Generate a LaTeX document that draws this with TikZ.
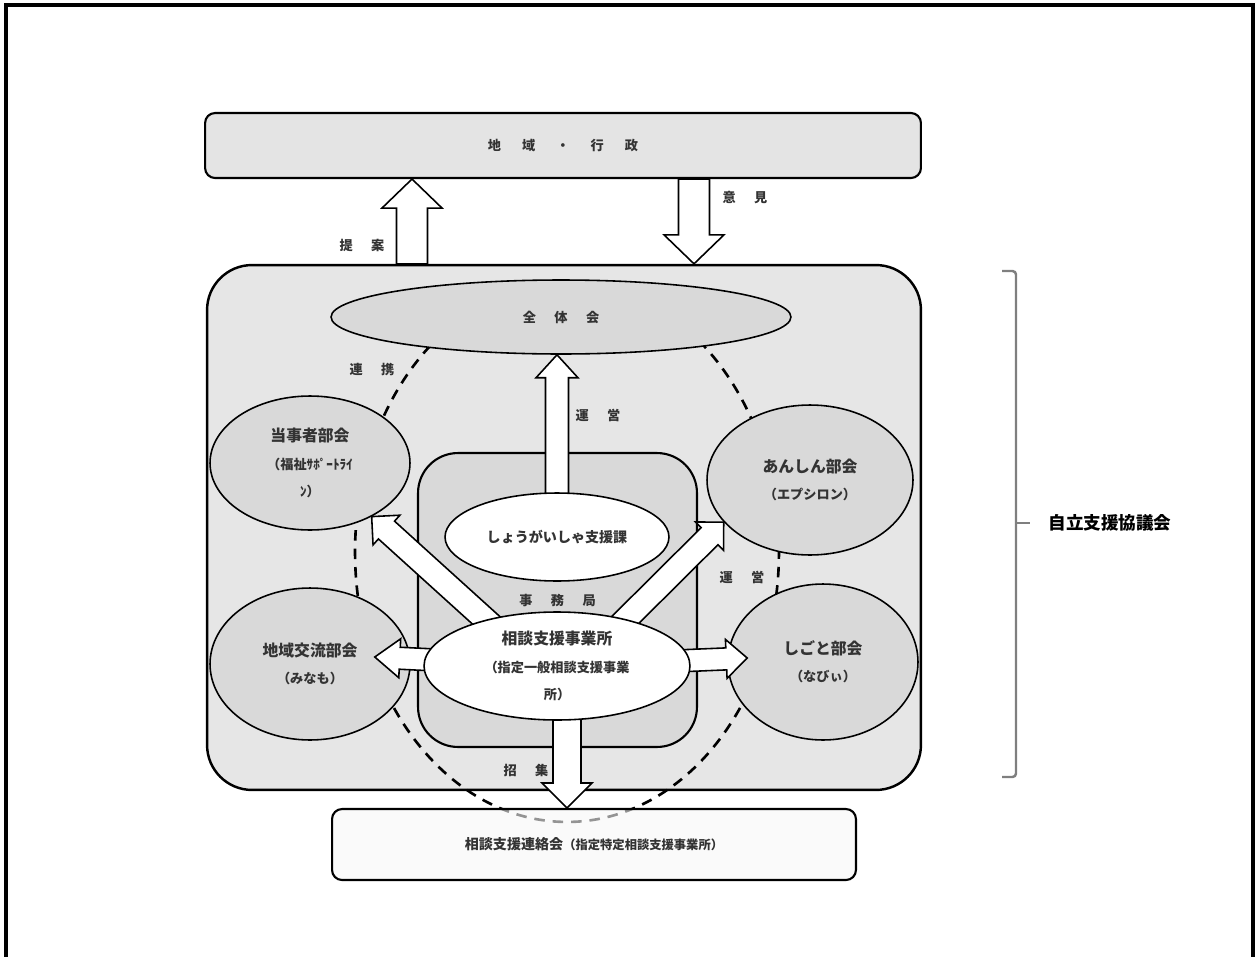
\documentclass[tikz,border=0pt]{standalone}
\usepackage{fontspec}
\setmainfont{Noto Sans CJK JP}
\usetikzlibrary{shapes.geometric,calc,positioning}
\definecolor{boxgray}{HTML}{E4E4E4}
\definecolor{outergray}{HTML}{E6E6E6}
\definecolor{bubgray}{HTML}{D9D9D9}
\definecolor{palegray}{HTML}{F7F7F7}
\definecolor{kakkogray}{HTML}{7F7F7F}
\newcommand\kan{\hspace{1.4em}}
\newcommand\tagfont{\bfseries\fontsize{7.5}{9}\selectfont}
\newcommand\bukaifont{\fontsize{9}{15.5}\selectfont}
\newcommand\hosoku{\fontsize{7.5}{15.5}\selectfont}
\newcommand\fatarrow[5]{%
  \coordinate (fa-b) at ($(#2)!#5!(#1)$);
  \draw[fatarrow] ($(#1)!#3!90:(#2)$) -- ($(fa-b)!#3!90:(#2)$) -- ($(fa-b)!#4!90:(#2)$) -- (#2)
    -- ($(fa-b)!#4!-90:(#2)$) -- ($(fa-b)!#3!-90:(#2)$) -- ($(#1)!#3!-90:(#2)$) -- cycle;}
\tikzset{
    waku/.style =    {draw=black,
                     line width=2.2pt},
    panel/.style =   {rectangle,
                     rounded corners=0.2cm,
                     fill=boxgray,
                     draw=black,
                     line width=1.2pt,
                     inner sep=0pt,
                     text=black!80},
    bubble/.style =  {ellipse,
                     fill=bubgray,
                     draw=black,
                     line width=0.9pt,
                     inner sep=0pt,
                     align=center,
                     text=black!80,
                     font=\bukaifont\bfseries},
    office/.style =  {ellipse,
                     fill=white,
                     draw=black,
                     line width=0.9pt,
                     inner sep=0pt,
                     align=center,
                     text=black!80,
                     font=\bukaifont\bfseries},
    tag/.style =     {text=black!80,
                     inner sep=1pt,
                     font=\tagfont},
    renkei/.style =  {draw=black,
                     line width=1.5pt,
                     dash pattern=on 6pt off 4.5pt},
    kakko/.style =   {draw=kakkogray,
                     line width=1.4pt},
    fatarrow/.style = {draw=black,
                     fill=white,
                     line width=0.9pt,
                     line join=miter}}
\begin{document}
\begin{tikzpicture}[x=0.02cm,y=-0.02cm]
\useasboundingbox (0,0) rectangle (1258,957);
\draw[waku] (6,957) -- (6,5) -- (1253,5) -- (1253,957);

\node[panel, minimum width=14.32cm, minimum height=1.3cm] (GYOSEI) at (563,145.5) {\tagfont 地\hspace{1.6em}域\hspace{1.6em}・\hspace{1.6em}行\hspace{1.6em}政};
\node[panel, fill=outergray, rounded corners=0.9cm, line width=1.4pt, minimum width=14.28cm, minimum height=10.5cm] (KYOGI) at (564,527.5) {};
\draw[kakko, rounded corners=2pt] (1002,271) -| (1016,777) -- (1002,777);
\draw[kakko] (1016,523) -- (1030,523);
\node[font=\bfseries\fontsize{10}{12}\selectfont] (JIRITSU) at (1110,523) {自立支援協議会};

\draw[renkei] (567,552) ellipse [x radius=4.24cm, y radius=5.4cm];

\node[bubble, minimum width=9.2cm, minimum height=1.48cm] (ZENTAI) at (561,317) {\tagfont 全\kan 体\kan 会};
\node[bubble, minimum width=4cm, minimum height=2.68cm] (TOJI) at (310,463) {当事者部会\\\hosoku（福祉ｻﾎﾟｰﾄﾗｲ\\\hosoku ﾝ）};
\node[bubble, minimum width=4cm, minimum height=3.04cm] (KORYU) at (310,664) {地域交流部会\\\hosoku（みなも）};
\node[bubble, minimum width=4.12cm, minimum height=3cm] (ANSHIN) at (810,480) {あんしん部会\\\hosoku（エプシロン）};
\node[bubble, minimum width=3.8cm, minimum height=3.12cm] (SHIGOTO) at (823,662) {しごと部会\\\hosoku（なびぃ）};
\node[panel, fill=bubgray, rounded corners=0.8cm, minimum width=5.58cm, minimum height=5.88cm] (JIMU) at (557.5,600) {\tagfont 事\kan 務\kan 局};
\node[panel, fill=palegray, fill opacity=0.6, text opacity=1, minimum width=10.48cm, minimum height=1.42cm] (RENRAKU) at (594,844.5) {{\bfseries\fontsize{8}{10}\selectfont 相談支援連絡会}{\bfseries\fontsize{7}{10}\selectfont（指定特定相談支援事業所）}};

\coordinate (KADAI-C) at (557,537);
\coordinate (SODAN-C) at (557,666);
\coordinate (SODAN-UL) at (530,660);
\coordinate (SODAN-UR) at (585,660);
\coordinate (TEIAN-S) at (KYOGI.north -| 412,0);
\coordinate (TEIAN-E) at (GYOSEI.south -| 412,0);
\coordinate (IKEN-S) at (GYOSEI.south -| 694,0);
\coordinate (IKEN-E) at (KYOGI.north -| 694,0);
\coordinate (UNEI-E) at (ZENTAI.south -| KADAI-C);
\coordinate (KORYU-TIP) at ($(KORYU.east)+(-36,-7)$);
\coordinate (SHIGOTO-TIP) at ($(SHIGOTO.west)+(20,-4)$);
\coordinate (SHOSHU-S) at (SODAN-C -| 567,0);
\coordinate (SHOSHU-E) at (RENRAKU.north -| 567,0);

\fatarrow{TEIAN-S}{TEIAN-E}{0.31cm}{0.6cm}{0.58cm}
\fatarrow{IKEN-S}{IKEN-E}{0.31cm}{0.6cm}{0.58cm}
\fatarrow{KADAI-C}{UNEI-E}{0.23cm}{0.42cm}{0.46cm}
\fatarrow{SODAN-UL}{TOJI.-41}{0.24cm}{0.4cm}{0.4cm}
\fatarrow{SODAN-UR}{ANSHIN.206}{0.24cm}{0.4cm}{0.4cm}
\fatarrow{SODAN-C}{KORYU-TIP}{0.22cm}{0.39cm}{0.5cm}
\fatarrow{SODAN-C}{SHIGOTO-TIP}{0.22cm}{0.39cm}{0.42cm}
\fatarrow{SHOSHU-S}{SHOSHU-E}{0.28cm}{0.5cm}{0.5cm}

\node[office, minimum width=4.48cm, minimum height=1.76cm] (KADAI) at (KADAI-C) {\fontsize{8}{10}\selectfont しょうがいしゃ支援課};
\node[office, minimum width=5.32cm, minimum height=2.16cm] (SODAN) at (SODAN-C) {相談支援事業所\\\hosoku（指定一般相談支援事業\\\hosoku 所）};

\node[tag] (TEIAN) at (362,245) {提\kan 案};
\node[tag] (IKEN) at (745,198) {意\kan 見};
\node[tag] (RENKEI) at (372,370) {連\kan 携};
\node[tag] (UNEI) at (598,415) {運\kan 営};
\node[tag] (UNEI2) at (742,577) {運\kan 営};
\node[tag] (SHOSHU) at (526,770) {招\kan 集};
\end{tikzpicture}
\end{document}
